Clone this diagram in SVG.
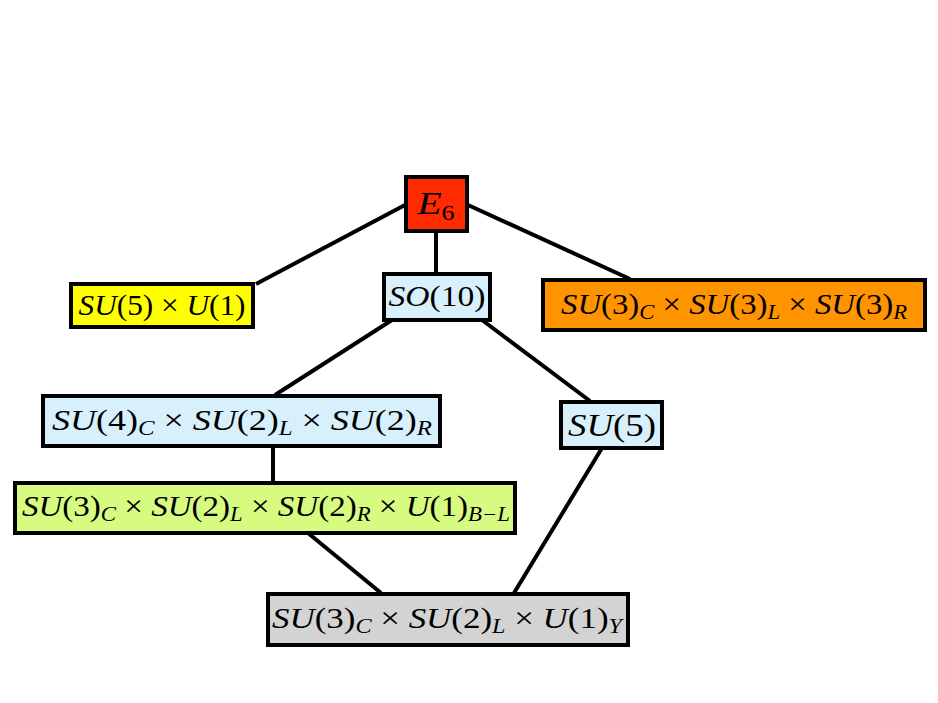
<svg xmlns="http://www.w3.org/2000/svg" width="938" height="703" viewBox="0 0 938 703">
<style>
.box{stroke:#000;stroke-width:4}
.edge{stroke:#000;stroke-width:4;fill:none}
text{font-family:"Liberation Serif","DejaVu Serif",serif;font-size:29px;text-anchor:middle;fill:#000}
.i{font-style:italic}
.s{font-size:20px;font-style:italic}
</style>
<rect width="938" height="703" fill="#fff"/>
<g id="connectors">
<line class="edge" x1="405" y1="205" x2="256" y2="284"/>
<line class="edge" x1="468" y1="205" x2="630" y2="279"/>
<line class="edge" x1="436" y1="232" x2="436" y2="273"/>
<line class="edge" x1="392" y1="320" x2="275" y2="395"/>
<line class="edge" x1="482" y1="320" x2="590" y2="401"/>
<line class="edge" x1="273" y1="446" x2="273" y2="482"/>
<line class="edge" x1="308" y1="533" x2="381" y2="593"/>
<line class="edge" x1="602" y1="448" x2="514" y2="593"/>
</g>
<g id="E6">
<rect class="box" x="406" y="177" width="61" height="54" fill="#ff2a00"/>
<text x="436" y="214" style="font-size:32px" textLength="37" lengthAdjust="spacingAndGlyphs"><tspan class="i">E</tspan><tspan dy="6" style="font-size:21px">6</tspan></text>
</g>
<g id="SU5U1">
<rect class="box" x="71" y="284" width="182" height="43" fill="#ffff00"/>
<text x="162" y="315" textLength="167" lengthAdjust="spacingAndGlyphs"><tspan class="i">SU</tspan>(5) × <tspan class="i">U</tspan>(1)</text>
</g>
<g id="SO10">
<rect class="box" x="384" y="274" width="106" height="46" fill="#d7f0fb"/>
<text x="437" y="306" textLength="97" lengthAdjust="spacingAndGlyphs"><tspan class="i">SO</tspan>(10)</text>
</g>
<g id="SU3cubed">
<rect class="box" x="543" y="280" width="382" height="50" fill="#ff9400"/>
<text x="734" y="314" textLength="346" lengthAdjust="spacingAndGlyphs"><tspan class="i">SU</tspan>(3)<tspan class="s" dy="5">C</tspan><tspan dy="-5"> × </tspan><tspan class="i">SU</tspan>(3)<tspan class="s" dy="5">L</tspan><tspan dy="-5"> × </tspan><tspan class="i">SU</tspan>(3)<tspan class="s" dy="5">R</tspan></text>
</g>
<g id="SU4SU2SU2">
<rect class="box" x="43" y="396" width="397" height="50" fill="#d7f0fb"/>
<text x="242" y="430" textLength="380" lengthAdjust="spacingAndGlyphs"><tspan class="i">SU</tspan>(4)<tspan class="s" dy="5">C</tspan><tspan dy="-5"> × </tspan><tspan class="i">SU</tspan>(2)<tspan class="s" dy="5">L</tspan><tspan dy="-5"> × </tspan><tspan class="i">SU</tspan>(2)<tspan class="s" dy="5">R</tspan></text>
</g>
<g id="SU5">
<rect class="box" x="561" y="402" width="101" height="46" fill="#d7f0fb"/>
<text x="612" y="436" style="font-size:32px" textLength="88" lengthAdjust="spacingAndGlyphs"><tspan class="i">SU</tspan>(5)</text>
</g>
<g id="LR">
<rect class="box" x="15" y="483" width="500" height="50" fill="#d6fb80"/>
<text x="266" y="516" textLength="488" lengthAdjust="spacingAndGlyphs"><tspan class="i">SU</tspan>(3)<tspan class="s" dy="5">C</tspan><tspan dy="-5"> × </tspan><tspan class="i">SU</tspan>(2)<tspan class="s" dy="5">L</tspan><tspan dy="-5"> × </tspan><tspan class="i">SU</tspan>(2)<tspan class="s" dy="5">R</tspan><tspan dy="-5"> × </tspan><tspan class="i">U</tspan>(1)<tspan class="s" dy="5">B−L</tspan></text>
</g>
<g id="SM">
<rect class="box" x="268" y="594" width="360" height="51" fill="#d3d3d3"/>
<text x="447" y="628" textLength="350" lengthAdjust="spacingAndGlyphs"><tspan class="i">SU</tspan>(3)<tspan class="s" dy="5">C</tspan><tspan dy="-5"> × </tspan><tspan class="i">SU</tspan>(2)<tspan class="s" dy="5">L</tspan><tspan dy="-5"> × </tspan><tspan class="i">U</tspan>(1)<tspan class="s" dy="5">Y</tspan></text>
</g>
</svg>
